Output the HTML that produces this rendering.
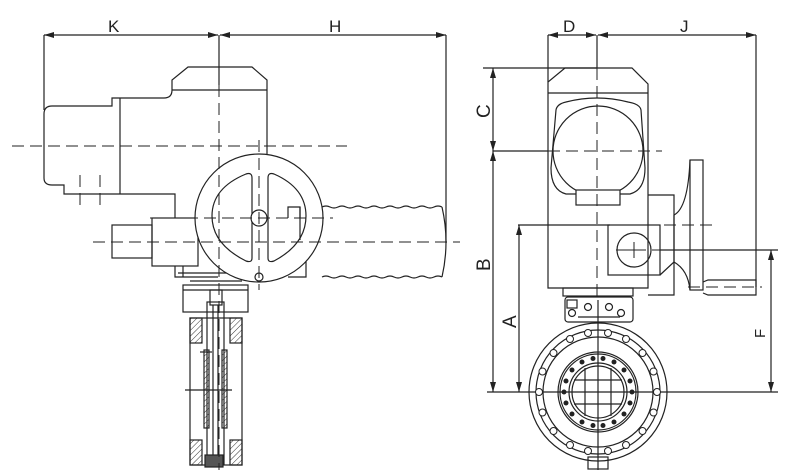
<!DOCTYPE html>
<html><head><meta charset="utf-8"><style>
html,body{margin:0;padding:0;background:#fff;}
svg{display:block;}
text{font-family:"Liberation Sans",sans-serif;fill:#222;}
</style></head><body>
<svg width="801" height="476" viewBox="0 0 801 476" xmlns="http://www.w3.org/2000/svg">
<defs>
<marker id="a" markerWidth="10" markerHeight="6" refX="10" refY="3" orient="auto-start-reverse" markerUnits="userSpaceOnUse"><path d="M0,0 L10,3 L0,6z" fill="#222"/></marker>
<pattern id="h" width="4" height="4" patternUnits="userSpaceOnUse" patternTransform="rotate(45)"><line x1="0" y1="0" x2="0" y2="4" stroke="#333" stroke-width="1"/></pattern>
</defs>
<g fill="none" stroke="#222" stroke-width="1.2">
<line x1="44" y1="35" x2="218" y2="35" marker-start="url(#a)" marker-end="url(#a)"/>
<line x1="220" y1="35" x2="446" y2="35" marker-start="url(#a)" marker-end="url(#a)"/>
<line x1="44" y1="35" x2="44" y2="110"/>
<line x1="219" y1="35" x2="219" y2="85"/>
<line x1="446" y1="35" x2="446" y2="243"/>
<path d="M172,90 L172,80 L188,67 L252,67 L267,80 L267,156"/>
<line x1="172" y1="90" x2="267" y2="90"/>
<path d="M172,90 Q172,98 164,98 L120,98 L112,98 L112,106 L52,106 Q44,106 44,114 L44,178 Q44,185 52,185 L64,185 L64,194 L175,194 L175,218"/>
<line x1="120" y1="98" x2="120" y2="194"/>
<rect x="112" y="225" width="40" height="33"/>
<rect x="152" y="218" width="46" height="48"/>
<line x1="198" y1="218" x2="322" y2="218"/>
<path d="M175,266 L175,277 L218,277"/>
<line x1="183" y1="266" x2="183" y2="277"/>
<line x1="178" y1="273" x2="230" y2="273"/>
<path d="M322,207 Q326,205 330,207 T338,207 T346,207 T354,207 T362,207 T370,207 T378,207 T386,207 T394,207 T402,207 T410,207 T418,207 T426,207 T434,207 T442,207"/>
<path d="M322,277 Q326,275 330,277 T338,277 T346,277 T354,277 T362,277 T370,277 T378,277 T386,277 T394,277 T402,277 T410,277 T418,277 T426,277 T434,277 T442,277"/>
<path d="M442,207 Q450,242 442,277"/>
<path d="M300,207 L306,207 L306,277 L288,277"/>
<circle cx="259" cy="218" r="64" fill="#fff"/>
<path d="M252,178 L252,258 Q252,263 246,261 Q212,244 212,216 Q212,188 246,174 Q252,172 252,178z"/>
<path d="M268,178 L268,258 Q268,263 274,261 Q306,244 306,216 Q306,188 274,174 Q268,172 268,178z"/>
<path d="M288,218 L288,207 L300,207 L300,218"/>
<line x1="300" y1="207" x2="300" y2="240"/>
<circle cx="259" cy="218" r="8" fill="#fff"/>
<circle cx="259" cy="277" r="4" fill="#fff"/>
<rect x="183" y="285" width="65" height="27"/>
<line x1="183" y1="290" x2="248" y2="290"/>
<line x1="190" y1="281" x2="242" y2="281"/>
<rect x="210" y="290" width="12" height="15"/>
<rect x="190" y="318" width="52" height="147"/>
<rect x="190" y="318" width="12" height="25" fill="url(#h)"/>
<rect x="230" y="318" width="12" height="25" fill="url(#h)"/>
<rect x="190" y="440" width="12" height="25" fill="url(#h)"/>
<rect x="230" y="440" width="12" height="25" fill="url(#h)"/>
<rect x="207" y="302" width="17" height="162"/>
<line x1="213" y1="305" x2="213" y2="460"/>
<line x1="218" y1="305" x2="218" y2="460"/>
<rect x="205" y="455" width="18" height="12" fill="#555"/>
<rect x="204" y="350" width="5" height="78" fill="url(#h)"/>
<rect x="222" y="350" width="5" height="78" fill="url(#h)"/>
<line x1="185" y1="390" x2="232" y2="390"/>
<line x1="200" y1="352" x2="212" y2="352"/>
</g>
<g fill="none" stroke="#222" stroke-width="1" stroke-dasharray="12,6">
<line x1="12" y1="146" x2="347" y2="146"/>
<line x1="93" y1="242" x2="460" y2="242"/>
<line x1="219" y1="85" x2="219" y2="470"/>
<line x1="259" y1="140" x2="259" y2="290"/>
<line x1="80" y1="175" x2="80" y2="206"/>
<line x1="100" y1="175" x2="100" y2="206"/>
<line x1="150" y1="218" x2="333" y2="218"/>
</g>
<text x="108" y="32" font-size="17">K</text>
<text x="329" y="32" font-size="17">H</text>

<g fill="none" stroke="#222" stroke-width="1.2">
<line x1="548" y1="35" x2="596" y2="35" marker-start="url(#a)" marker-end="url(#a)"/>
<line x1="598" y1="35" x2="756" y2="35" marker-start="url(#a)" marker-end="url(#a)"/>
<line x1="548" y1="35" x2="548" y2="82"/>
<line x1="597" y1="35" x2="597" y2="68"/>
<line x1="756" y1="35" x2="756" y2="287"/>
<line x1="483" y1="68" x2="597" y2="68"/>
<line x1="493" y1="68" x2="493" y2="151" marker-start="url(#a)" marker-end="url(#a)"/>
<line x1="493" y1="151" x2="548" y2="151"/>
<line x1="493" y1="151" x2="493" y2="392" marker-start="url(#a)" marker-end="url(#a)"/>
<line x1="518" y1="225" x2="610" y2="225"/>
<line x1="519" y1="225" x2="519" y2="392" marker-start="url(#a)" marker-end="url(#a)"/>
<line x1="660" y1="250" x2="778" y2="250"/>
<line x1="771" y1="250" x2="771" y2="392" marker-start="url(#a)" marker-end="url(#a)"/>
<line x1="487" y1="392" x2="778" y2="392"/>
<path d="M548,92 L548,82 L565,68 L632,68 L648,84 L648,288 L548,288 Z"/>
<line x1="548" y1="93" x2="648" y2="93"/>
<path d="M556,110 Q557,104 566,102 Q597,94 628,102 Q640,104 641,110 L645,168 Q645,190 630,194 L566,194 Q551,190 551,168 Z"/>
<circle cx="598" cy="151" r="45"/>
<rect x="576" y="190" width="44" height="15" fill="#fff"/>
<rect x="608" y="225" width="52" height="50"/>
<circle cx="634" cy="250" r="17"/>
<path d="M648,195 L674,195 L674,295 L648,295"/>
<path d="M660,275 L674,262 L674,215"/>
<path d="M674,215 Q688,208 690,160 M674,262 Q688,270 690,290"/>
<rect x="690" y="160" width="13" height="130"/>
<path d="M703,282 L708,280 L756,280 L756,295 L708,295 L703,293"/>
<rect x="563" y="288" width="70" height="8"/>
<rect x="565" y="297" width="68" height="25" rx="3"/>
<rect x="567" y="300" width="10" height="8"/>
<circle cx="572" cy="313" r="3.5"/><circle cx="588" cy="307" r="3.5"/><circle cx="609" cy="307" r="3.5"/><circle cx="621" cy="313" r="3.5"/>
<line x1="578" y1="317" x2="620" y2="317"/>
<circle cx="598" cy="392" r="69"/>
<circle cx="598" cy="392" r="62"/>
<circle cx="598" cy="392" r="55"/>
<circle cx="598" cy="392" r="40"/>
<circle cx="598" cy="392" r="38"/>
<circle cx="598" cy="392" r="29"/>
<circle cx="598" cy="392" r="26"/>
<line x1="585" y1="368" x2="585" y2="416"/><line x1="611" y1="368" x2="611" y2="416"/>
<line x1="574" y1="380" x2="622" y2="380"/><line x1="574" y1="404" x2="622" y2="404"/>
<rect x="588" y="457" width="20" height="12"/>
</g>
<g fill="#fff" stroke="#222" stroke-width="1">
<circle cx="657" cy="392" r="3.5"/><circle cx="653.5" cy="412.5" r="3.5"/><circle cx="642.5" cy="431" r="3.5"/><circle cx="626" cy="445" r="3.5"/><circle cx="608" cy="451" r="3.5"/><circle cx="588" cy="451" r="3.5"/><circle cx="570" cy="445" r="3.5"/><circle cx="553.5" cy="431" r="3.5"/><circle cx="542.5" cy="412.5" r="3.5"/><circle cx="539" cy="392" r="3.5"/><circle cx="542.5" cy="371.5" r="3.5"/><circle cx="553.5" cy="353" r="3.5"/><circle cx="570" cy="339" r="3.5"/><circle cx="588" cy="333" r="3.5"/><circle cx="608" cy="333" r="3.5"/><circle cx="626" cy="339" r="3.5"/><circle cx="642.5" cy="353" r="3.5"/><circle cx="653.5" cy="371.5" r="3.5"/>
</g>
<g fill="#222">
<circle cx="632" cy="392" r="2.5"/><circle cx="630" cy="403" r="2.5"/><circle cx="624" cy="414" r="2.5"/><circle cx="614" cy="422" r="2.5"/><circle cx="603" cy="425.5" r="2.5"/><circle cx="593" cy="425.5" r="2.5"/><circle cx="582" cy="422" r="2.5"/><circle cx="572" cy="414" r="2.5"/><circle cx="566" cy="403" r="2.5"/><circle cx="564" cy="392" r="2.5"/><circle cx="566" cy="381" r="2.5"/><circle cx="572" cy="370" r="2.5"/><circle cx="582" cy="362" r="2.5"/><circle cx="593" cy="358.5" r="2.5"/><circle cx="603" cy="358.5" r="2.5"/><circle cx="614" cy="362" r="2.5"/><circle cx="624" cy="370" r="2.5"/><circle cx="630" cy="381" r="2.5"/>
</g>
<g fill="none" stroke="#222" stroke-width="1" stroke-dasharray="12,6">
<line x1="597" y1="68" x2="597" y2="300"/>
<line x1="548" y1="151" x2="662" y2="151"/>
<line x1="610" y1="225" x2="712" y2="225"/>
<line x1="616" y1="250" x2="660" y2="250"/>
<line x1="688" y1="287" x2="762" y2="287"/>
</g>
<line x1="598" y1="300" x2="598" y2="470" stroke="#222" stroke-width="1.2"/>
<line x1="626" y1="250" x2="642" y2="250" stroke="#222"/><line x1="634" y1="242" x2="634" y2="258" stroke="#222"/>
<text x="563" y="32" font-size="17">D</text>
<text x="680" y="32" font-size="17">J</text>
<text font-size="19" transform="translate(490,118) rotate(-90)">C</text>
<text font-size="19" transform="translate(490,271) rotate(-90)">B</text>
<text font-size="19" transform="translate(516,328) rotate(-90)">A</text>
<text font-size="15" transform="translate(765,338) rotate(-90)">F</text>
</svg>
</body></html>
